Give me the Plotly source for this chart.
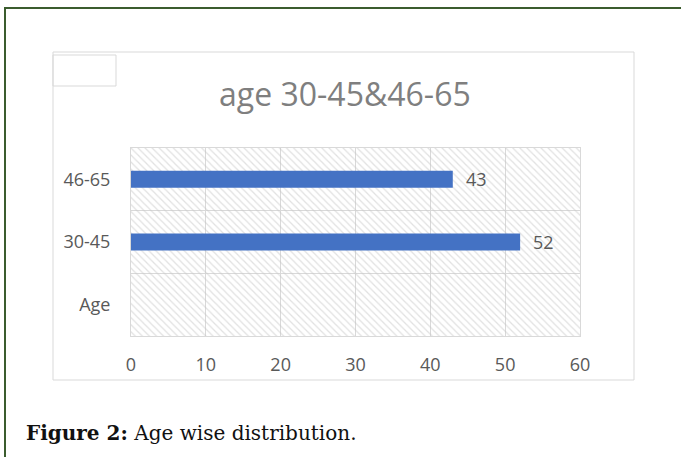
import plotly.graph_objects as go

categories = ["Age", "30-45", "46-65"]
values = [None, 52, 43]
x_ticks = [0, 10, 20, 30, 40, 50, 60]
title_text = "age 30-45&46-65"
caption_bold = "Figure 2:"
caption_rest = " Age wise distribution."

W, H = 681, 457
def px(x): return x / W
def py(y): return 1 - y / H

fig = go.Figure()

# hatched plot background
fig.add_trace(go.Bar(
    y=categories, x=[x_ticks[-1]] * len(categories), orientation="h", width=1,
    marker=dict(color="rgba(0,0,0,0)", line=dict(width=0),
                pattern=dict(shape="\\", fgcolor="#c4c4c4", bgcolor="rgba(0,0,0,0)",
                             size=5, solidity=0.25)),
    hoverinfo="skip", showlegend=False))

fig.add_trace(go.Bar(
    y=categories, x=values, orientation="h", width=0.27,
    marker=dict(color="#4472C4", line=dict(width=0)), showlegend=False))

for c, v in zip(categories, values):
    if v is not None:
        fig.add_annotation(x=v, y=c, text=str(v), showarrow=False, xanchor="left",
                           xshift=11, font=dict(family="Open Sans", size=18, color="#595959"))

shapes = [
    dict(type="rect", xref="paper", yref="paper", x0=px(5), x1=px(700), y0=py(8), y1=py(480),
         line=dict(color="#3b5c2e", width=2)),
    dict(type="rect", xref="paper", yref="paper", x0=px(53), x1=px(634), y0=py(52), y1=py(380),
         line=dict(color="#d9d9d9", width=1)),
    dict(type="rect", xref="paper", yref="paper", x0=px(53), x1=px(116), y0=py(55), y1=py(86),
         line=dict(color="#d9d9d9", width=1)),
]

fig.add_annotation(xref="paper", yref="paper", x=px(345), y=py(93), text=title_text,
                   showarrow=False, xanchor="center", yanchor="middle",
                   font=dict(family="Open Sans", size=32, color="#7f7f7f"))
fig.add_annotation(xref="paper", yref="paper", x=px(24), y=py(433),
                   text="<b>" + caption_bold + "</b>" + caption_rest,
                   showarrow=False, xanchor="left", yanchor="middle",
                   font=dict(family="DejaVu Serif", size=20, color="#111111"))

fig.update_layout(
    width=W, height=H, autosize=False, margin=dict(l=0, r=0, t=0, b=0, pad=0),
    paper_bgcolor="white", plot_bgcolor="white", barmode="overlay",
    shapes=shapes, showlegend=False,
    xaxis=dict(domain=[px(131), px(580)], range=[0, 60], tickvals=x_ticks,
               showgrid=True, gridcolor="#d9d9d9", gridwidth=1, zeroline=False,
               showline=True, linecolor="#d9d9d9", mirror=True, ticks="",
               ticklabelstandoff=12, automargin=False,
               tickfont=dict(family="Open Sans", size=18, color="#595959"), fixedrange=True,
               layer="above traces"),
    yaxis=dict(domain=[py(336), py(148)], type="category", categoryorder="array",
               categoryarray=categories, tickson="boundaries", showgrid=True,
               gridcolor="#d9d9d9", gridwidth=1, showline=True, linecolor="#d9d9d9",
               mirror=True, ticks="", ticklabelstandoff=16, automargin=False,
               tickfont=dict(family="Open Sans", size=18, color="#595959"), fixedrange=True),
)

fig.write_html("out.html")
